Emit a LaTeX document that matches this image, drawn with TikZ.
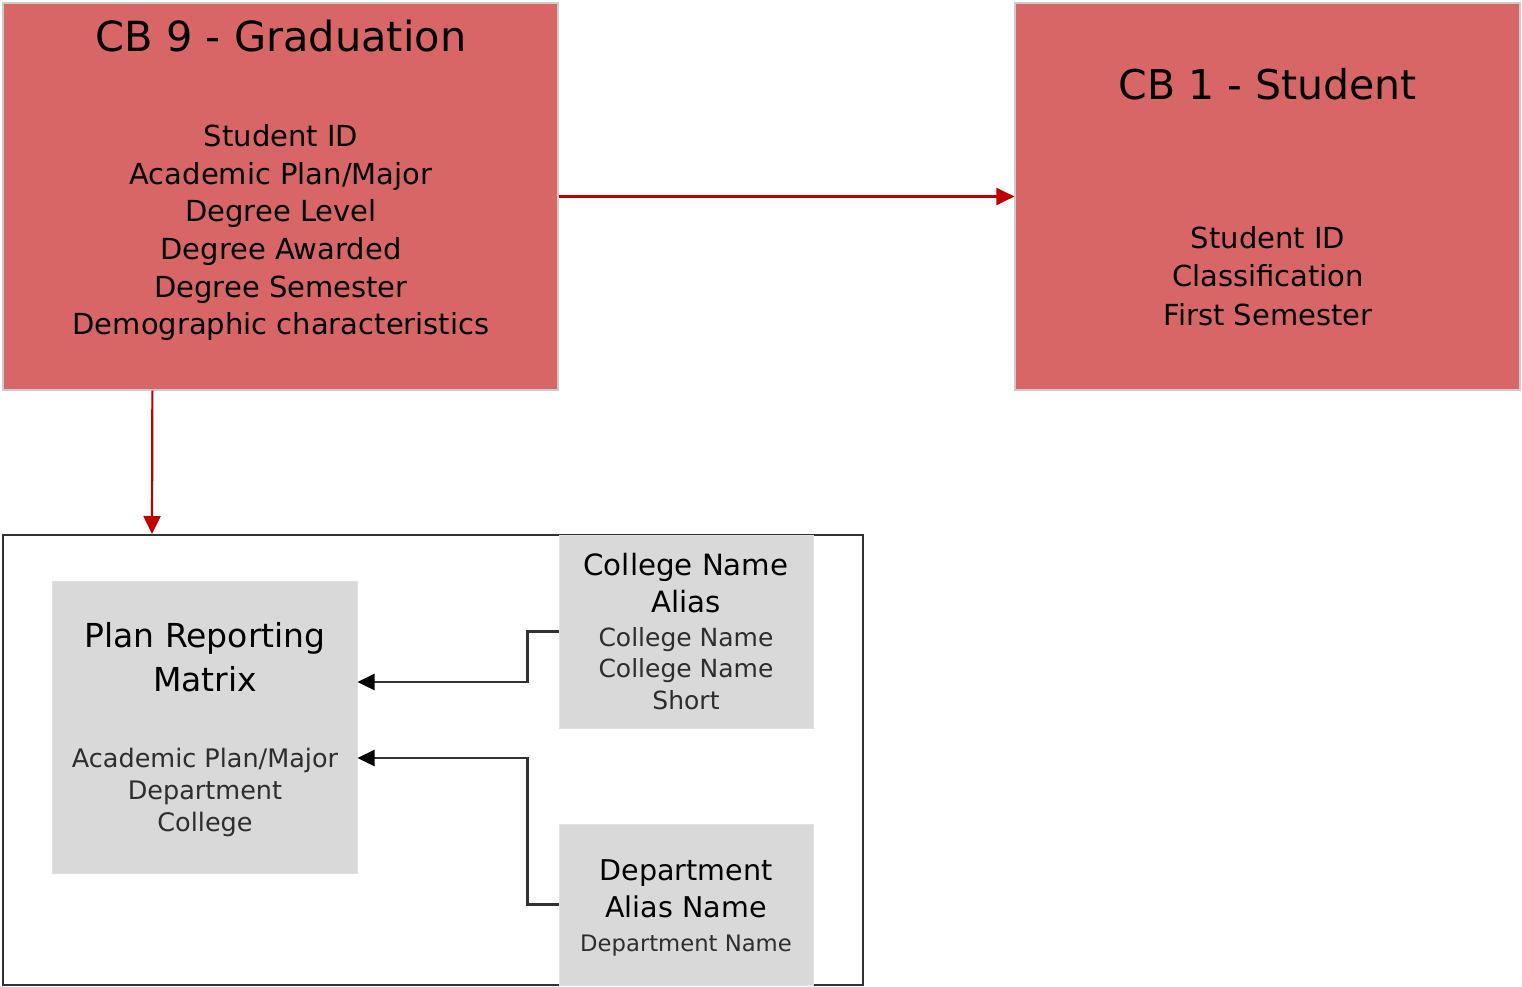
\documentclass[tikz,border=0pt]{standalone}
\usepackage{fontspec}
\setmainfont{DejaVu Sans}
\usetikzlibrary{arrows.meta}
\definecolor{boxred}{RGB}{217,102,102}
\definecolor{arrred}{RGB}{192,0,0}
\definecolor{boxgray}{RGB}{217,217,217}
\definecolor{linegray}{RGB}{50,50,50}
\definecolor{bodygray}{RGB}{45,45,45}
\newcommand{\fsz}[1]{\fontsize{#1pt}{#1pt}\selectfont}
\tikzset{
  redbox/.style={rectangle, fill=boxred, draw=black!20, line width=1.2pt, inner sep=0},
  graybox/.style={rectangle, fill=boxgray, draw=black!12, line width=1pt, inner sep=0},
  groupbox/.style={rectangle, fill=white, draw=linegray, line width=2pt, inner sep=0},
  txt/.style={anchor=base, inner sep=0, text=black},
  bodytxt/.style={anchor=base, inner sep=0, text=bodygray},
  redarrow/.style={draw=arrred, line width=2.2pt, -{Triangle[length=18pt,width=17pt]}},
  grayarrow/.style={draw=linegray, line width=2.4pt, -{Triangle[length=17pt,width=16pt,color=black]}},
}
\begin{document}
\begin{tikzpicture}[x=1pt,y=-1pt]
\useasboundingbox (0,0) rectangle (1522,987);
% boxes
\node[redbox, minimum width=555pt, minimum height=387pt] (cbnine) at (280.5,196.5) {};
\node[redbox, minimum width=505pt, minimum height=387pt] (cbone) at (1267.5,196.5) {};
\node[groupbox, minimum width=860pt, minimum height=450pt] (grp) at (433,760) {};
\node[graybox, minimum width=305pt, minimum height=292pt] (prm) at (204.5,727) {};
\node[graybox, minimum width=254pt, minimum height=193pt] (coll) at (686,631.5) {};
\node[graybox, minimum width=254pt, minimum height=161pt] (dept) at (686,904.5) {};
% CB 9 text
\node[txt, font=\fsz{41.5}] (t9) at (281,52) {CB 9 - Graduation};
\node[txt, font=\fsz{29}] (t9a) at (281,147) {Student ID};
\node[txt, font=\fsz{29}] (t9b) at (281,184.5) {Academic Plan/Major};
\node[txt, font=\fsz{29}] (t9c) at (281,222) {Degree Level};
\node[txt, font=\fsz{29}] (t9d) at (281,259.5) {Degree Awarded};
\node[txt, font=\fsz{29}] (t9e) at (281,297) {Degree Semester};
\node[txt, font=\fsz{29}] (t9f) at (281,334.5) {Demographic characteristics};
% CB 1 text
\node[txt, font=\fsz{41}] (t1) at (1268,100) {CB 1 - Student};
\node[txt, font=\fsz{29}] (t1a) at (1268,248) {Student ID};
\node[txt, font=\fsz{29}] (t1b) at (1268,286) {Classification};
\node[txt, font=\fsz{29}] (t1c) at (1268,325) {First Semester};
% Plan Reporting Matrix
\node[txt, font=\fsz{33}] (tp) at (205,647) {Plan Reporting};
\node[txt, font=\fsz{33}] (tp2) at (205,691) {Matrix};
\node[bodytxt, font=\fsz{25.5}] (tpa) at (205,767) {Academic Plan/Major};
\node[bodytxt, font=\fsz{25.5}] (tpb) at (205,799) {Department};
\node[bodytxt, font=\fsz{25.5}] (tpc) at (205,831) {College};
% College Name Alias
\node[txt, font=\fsz{29.3}] (tc) at (686,575) {College Name};
\node[txt, font=\fsz{29.3}] (tc2) at (686,612) {Alias};
\node[bodytxt, font=\fsz{25}] (tca) at (686,646) {College Name};
\node[bodytxt, font=\fsz{25}] (tcb) at (686,677) {College Name};
\node[bodytxt, font=\fsz{25}] (tcc) at (686,709) {Short};
% Department Alias Name
\node[txt, font=\fsz{28.6}] (td) at (686,880) {Department};
\node[txt, font=\fsz{28.6}] (td2) at (686,917) {Alias Name};
\node[bodytxt, font=\fsz{22.7}] (tda) at (686,951) {Department Name};
% connectors
\draw[redarrow] (cbnine.east) -- (cbone.west);
\draw[redarrow] ([xshift=150pt]cbnine.south west) -- ([xshift=150pt]grp.north west);
\draw[grayarrow] (coll.west) -- ++(-31pt,0) |- ([yshift=45pt]prm.east);
\draw[grayarrow] (dept.west) -- ++(-31pt,0) |- ([yshift=-31pt]prm.east);
\end{tikzpicture}
\end{document}
